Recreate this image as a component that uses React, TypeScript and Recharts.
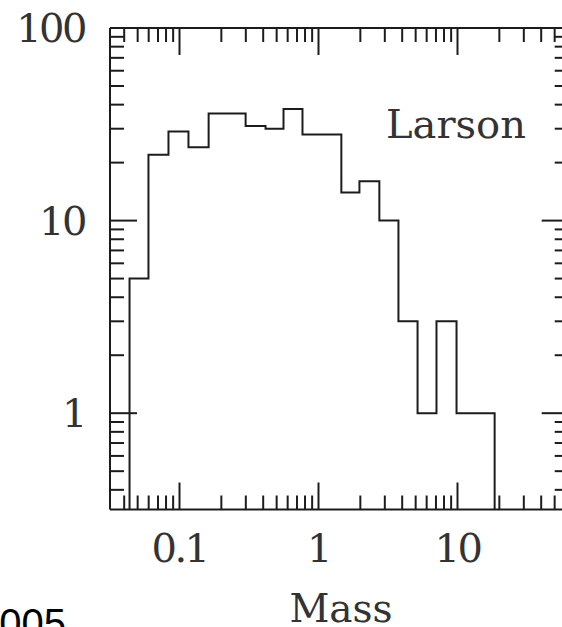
import { Line, LineChart, XAxis, YAxis } from "recharts";

// bin edges in mass
const binEdges = [
  0.0437, 0.0598, 0.0833, 0.116, 0.162, 0.22, 0.299, 0.416, 0.56, 0.767, 1.06, 1.46, 1.97, 2.74, 3.76, 5.16,
  7.06, 9.84, 13.5, 18.5,
];
const binCounts = [5, 22, 29, 24, 36, 36, 31, 30, 38, 28, 28, 14, 16, 10, 3, 1, 3, 1, 1];

const xTicks = [
  0.04, 0.05, 0.06, 0.07, 0.08, 0.09, 0.1, 0.2, 0.3, 0.4, 0.5, 0.6, 0.7, 0.8, 0.9, 1, 2, 3, 4, 5, 6, 7, 8, 9, 10, 20,
  30, 40, 50, 60,
];
const yTicks = [
  0.4, 0.5, 0.6, 0.7, 0.8, 0.9, 1, 2, 3, 4, 5, 6, 7, 8, 9, 10, 20, 30, 40, 50, 60, 70, 80, 90, 100,
];
const xLabels = [0.1, 1, 10];
const yLabels = [1, 10, 100];

const X_DOMAIN: [number, number] = [0.03162, 63.1];
const Y_DOMAIN: [number, number] = [0.3162, 100];

const INK = "#1c1c1c";
const TEXT = "#333";
const FONT = "DejaVu Serif";
const AXIS = 20; // room given to every axis

const isMajor = (v: number) => Math.abs(Math.log10(v) - Math.round(Math.log10(v))) < 1e-6;

// zero counts sit on the bottom of the log axis
const steps = [
  { m: binEdges[0], n: Y_DOMAIN[0] },
  ...binCounts.map((n, i) => ({ m: binEdges[i], n })),
  { m: binEdges[binEdges.length - 1], n: binCounts[binCounts.length - 1] },
  { m: binEdges[binEdges.length - 1], n: Y_DOMAIN[0] },
];

type Side = "bottom" | "top" | "left" | "right";

function makeTick(side: Side, labels: number[]) {
  return function Tick(props: any) {
    const { x, y, payload } = props;
    const v = payload.value as number;
    const len = isMajor(v) ? 27 : 14;
    let x2 = x;
    let y2 = y;
    if (side === "bottom") y2 = y - len;
    if (side === "top") y2 = y + len;
    if (side === "left") x2 = x + len;
    if (side === "right") x2 = x - len;
    const showLabel = labels.some((l) => Math.abs(l - v) < 1e-9);
    return (
      <g>
        <line x1={x} y1={y} x2={x2} y2={y2} stroke={INK} strokeWidth={2} />
        {showLabel && side === "bottom" && (
          <text x={x} y={y + 52} textAnchor="middle" fontFamily={FONT} fontSize={40} fill={TEXT} letterSpacing={-2.5}>
            {String(v)}
          </text>
        )}
        {showLabel && side === "left" && (
          <text x={x - 25} y={y + 14} textAnchor="end" fontFamily={FONT} fontSize={40} fill={TEXT} letterSpacing={-2.5}>
            {String(v)}
          </text>
        )}
      </g>
    );
  };
}

const axisCommon = {
  type: "number" as const,
  scale: "log" as const,
  allowDataOverflow: true,
  interval: 0,
  tickSize: 0,
  tickMargin: 0,
  tickLine: false,
  axisLine: { stroke: INK, strokeWidth: 2 },
};

export default function App() {
  return (
    <div style={{ position: "fixed", left: 0, top: 0, width: 562, height: 627, overflow: "hidden", background: "#fff" }}>
      <div style={{ position: "absolute", left: 0, top: 0 }}>
        <LineChart
          width={620}
          height={627}
          data={steps}
          margin={{ top: 28 - AXIS, left: 110 - AXIS, right: 620 - 568.7 - AXIS, bottom: 117.5 - AXIS }}
        >
          <XAxis
            {...axisCommon}
            dataKey="m"
            domain={X_DOMAIN}
            ticks={xTicks}
            height={AXIS}
            tick={makeTick("bottom", xLabels)}
          />
          <XAxis
            {...axisCommon}
            xAxisId="top"
            orientation="top"
            dataKey="m"
            domain={X_DOMAIN}
            ticks={xTicks}
            height={AXIS}
            tick={makeTick("top", [])}
          />
          <YAxis {...axisCommon} domain={Y_DOMAIN} ticks={yTicks} width={AXIS} tick={makeTick("left", yLabels)} />
          <YAxis
            {...axisCommon}
            yAxisId="right"
            orientation="right"
            domain={Y_DOMAIN}
            ticks={yTicks}
            width={AXIS}
            tick={makeTick("right", [])}
          />
          <Line type="stepAfter" dataKey="n" stroke={INK} strokeWidth={2} dot={false} isAnimationActive={false} />
        </LineChart>
      </div>
      <svg width={562} height={627} style={{ position: "absolute", left: 0, top: 0, pointerEvents: "none" }}>
        <text x={386} y={138} fontFamily={FONT} fontSize={40} fill={TEXT}>
          Larson
        </text>
        <text x={341} y={622} textAnchor="middle" fontFamily={FONT} fontSize={39} fill={TEXT}>
          Mass
        </text>
        <text x={66} y={637} textAnchor="end" fontFamily="Liberation Sans" fontSize={40} fill="#000">
          2005
        </text>
      </svg>
    </div>
  );
}
